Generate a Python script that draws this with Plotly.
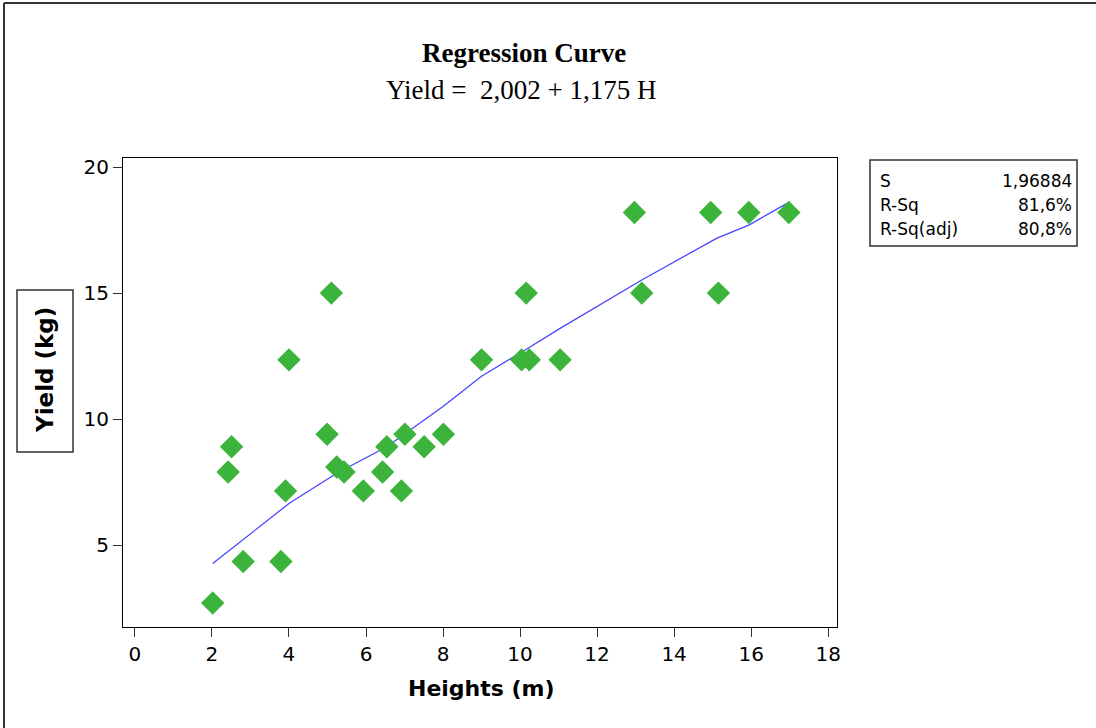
import plotly.graph_objects as go

# Observed data
heights = [2.02, 2.42, 2.51, 2.81, 3.79, 3.91, 4.0, 4.99, 5.1, 5.24, 5.43, 5.93, 6.43, 6.54,
           6.92, 7.01, 7.51, 8.01, 9.0, 10.04, 10.24, 10.16, 11.04, 12.97, 13.16, 14.95,
           15.15, 15.94, 16.98]
yields = [2.7, 7.9, 8.9, 4.35, 4.35, 7.15, 12.35, 9.4, 15.0, 8.1, 7.9, 7.15, 7.9, 8.9,
          7.15, 9.4, 8.9, 9.4, 12.35, 12.35, 12.35, 15.0, 12.35, 18.2, 15.0, 18.2,
          15.0, 18.2, 18.2]

# Fitted curve
fit_x = [2.02, 4.0, 5.24, 6.54, 8.0, 9.0, 10.13, 11.04, 13.16, 15.1, 15.94, 16.98]
fit_y = [4.27, 6.65, 7.85, 8.9, 10.5, 11.7, 12.74, 13.6, 15.52, 17.17, 17.7, 18.6]

stat_names = ["S", "R-Sq", "R-Sq(adj)"]
stat_values = ["1,96884", "81,6%", "80,8%"]

x_ticks = [0, 2, 4, 6, 8, 10, 12, 14, 16, 18]
y_ticks = [5, 10, 15, 20]

W, H = 1096, 728
L, R, T, B = 123, 837, 158, 627


def px(x):
    return (x - L) / (R - L)


def py(y):
    return (B - y) / (B - T)


sans = "Verdana, Tahoma, DejaVu Sans, sans-serif"
serif = "Times New Roman, Liberation Serif, serif"

fig = go.Figure()
fig.add_trace(go.Scatter(x=fit_x, y=fit_y, mode="lines",
                         line=dict(color="#4646ff", width=1.3), showlegend=False))
fig.add_trace(go.Scatter(x=heights, y=yields, mode="markers",
                         marker=dict(symbol="diamond", size=18, color="#3cb43c",
                                     line=dict(width=0)), showlegend=False))


def ann(text, x, y, size, family, xanchor="center", angle=0):
    return dict(text=text, x=px(x), y=py(y), xref="paper", yref="paper",
                xanchor=xanchor, yanchor="middle", showarrow=False, textangle=angle,
                font=dict(family=family, size=size, color="black"))


annotations = [
    ann("<b>Regression Curve</b>", 524, 53, 27, serif),
    ann("Yield =  2,002 + 1,175 H", 521, 90, 27, serif),
    ann("<b>Heights (m)</b>", 481, 688, 22, sans),
    ann("<b>Yield (kg)</b>", 45, 370, 23, sans, angle=-90),
]
row_y = [181, 205, 229]
for name, val, ry in zip(stat_names, stat_values, row_y):
    annotations.append(ann(name, 878, ry, 17, sans, xanchor="left"))
    annotations.append(ann(val, 1074, ry, 17, sans, xanchor="right"))

shapes = [
    dict(type="rect", xref="paper", yref="paper", x0=px(870), x1=px(1077), y0=py(246), y1=py(160),
         line=dict(color="#333333", width=1.5)),
    dict(type="rect", xref="paper", yref="paper", x0=px(17), x1=px(73), y0=py(452), y1=py(290),
         line=dict(color="#333333", width=1.5)),
    dict(type="line", xref="paper", yref="paper", x0=px(4), x1=px(1096), y0=py(3), y1=py(3),
         line=dict(color="#333333", width=2)),
    dict(type="line", xref="paper", yref="paper", x0=px(4), x1=px(4), y0=py(3), y1=py(728),
         line=dict(color="#333333", width=2)),
]

fig.update_layout(
    width=W, height=H,
    margin=dict(l=L, r=W - R, t=T, b=H - B),
    paper_bgcolor="white", plot_bgcolor="white",
    annotations=annotations, shapes=shapes,
    xaxis=dict(range=[-0.31, 18.23], tickvals=x_ticks, showgrid=False, zeroline=False,
               showline=True, linecolor="black", linewidth=1.2, mirror=True,
               ticks="outside", ticklen=9, tickcolor="#333333",
               tickfont=dict(family=sans, size=20, color="black")),
    yaxis=dict(range=[1.75, 20.36], tickvals=y_ticks, showgrid=False, zeroline=False,
               showline=True, linecolor="black", linewidth=1.2, mirror=True,
               ticks="outside", ticklen=9, tickcolor="#333333",
               tickfont=dict(family=sans, size=20, color="black")),
)

fig.write_html("out.html", config={"displayModeBar": False},
               post_script="document.body.style.margin='0';")
